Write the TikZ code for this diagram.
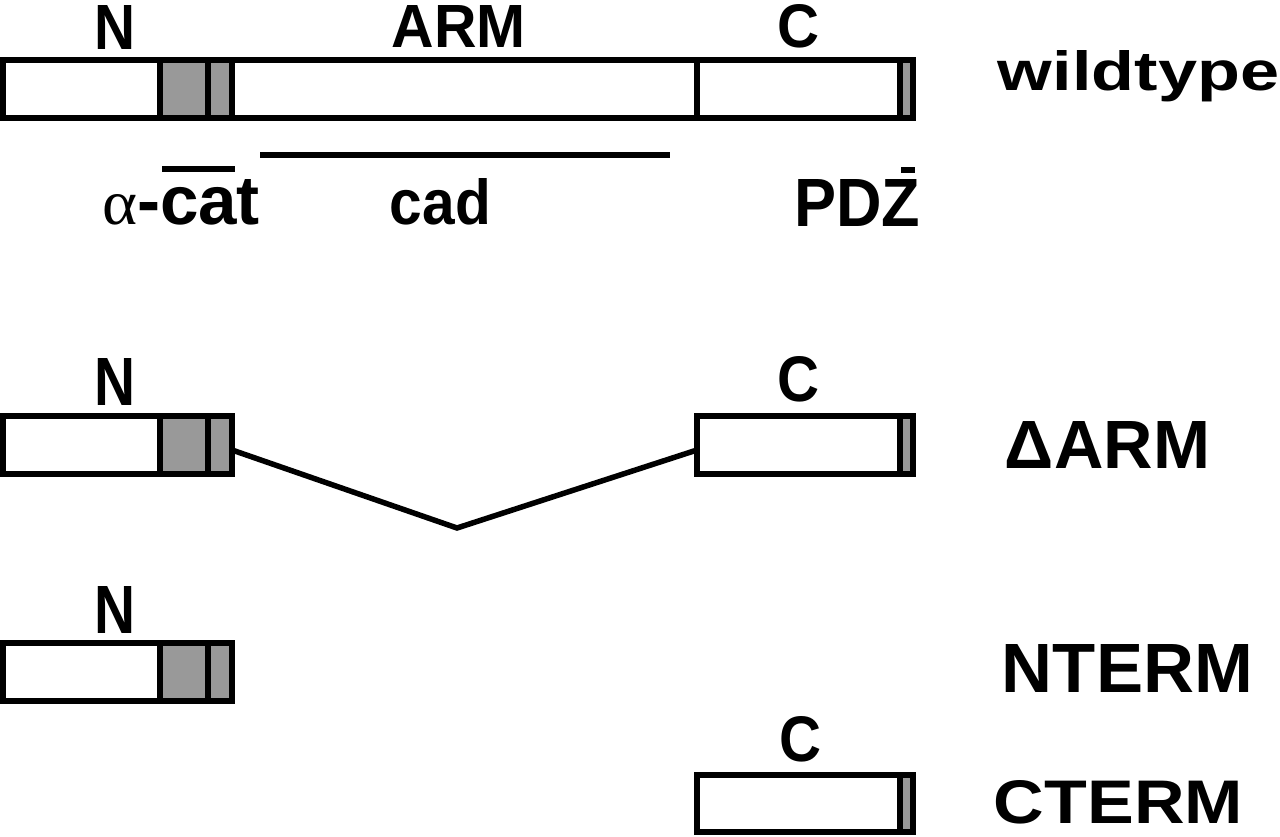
\documentclass[tikz,border=0pt]{standalone}
\usepackage{fontspec}
\usepackage{graphicx}
\newfontfamily\hvfont{Liberation Sans}
\newfontfamily\alphafont{Liberation Serif}
\newcommand\rzlab[3]{\resizebox{#1pt}{#2pt}{\hvfont\bfseries #3}}
\definecolor{domgray}{RGB}{153,153,153}
\tikzset{
  protbox/.style={draw=black, fill=white, line width=6pt, inner sep=0pt, outer sep=0pt,
                  anchor=north west, minimum height=58pt},
  divline/.style={line width=6pt, line cap=butt},
  regbar/.style={line width=6pt, line cap=butt},
  conn/.style={line width=5.5pt},
  lab/.style={inner sep=0pt, outer sep=0pt, anchor=base},
}
\begin{document}
\begin{tikzpicture}[x=1pt, y=-1pt]
\useasboundingbox (0,0) rectangle (1280,837);
\fill[white] (0,0) rectangle (1280,837);

% ---------- wildtype ----------
\node[protbox, minimum width=910pt] (wt) at (3,60) {};
\fill[domgray] (163,63) rectangle (205,115);
\fill[domgray] (211,63) rectangle (229,115);
\fill[domgray] (903,63) rectangle (910,115);
\draw[divline] (160,60) -- (160,118);
\draw[divline] (208,60) -- (208,118);
\draw[divline] (232,60) -- (232,118);
\draw[divline] (697,60) -- (697,118);
\draw[divline] (900,60) -- (900,118);

\node[lab] (wtN) at (115.5,50) {\rzlab{41}{44}{N}};
\node[lab] (wtARM) at (459,48) {\rzlab{134}{42}{ARM}};
\node[lab] (wtC) at (798.5,48) {\rzlab{42}{43}{C}};
\node[lab] (wtname) at (1138.5,91) {\rzlab{281}{40}{wildtype}};

% binding regions
\coordinate (acatL) at (162,169.5);
\coordinate (acatR) at (235,169.5);
\draw[regbar] (acatL) -- (acatR);
\coordinate (cadL) at (260,155);
\coordinate (cadR) at (670,155);
\draw[regbar] (cadL) -- (cadR);
\coordinate (pdzL) at (901,170);
\coordinate (pdzR) at (915,170);
\draw[regbar] (pdzL) -- (pdzR);

\node[lab, anchor=base west] (acat) at (102,225)
  {\resizebox{35pt}{30pt}{\alphafont α}\rzlab{123}{45}{-cat}};
\node[lab] (cad) at (440.5,225) {\rzlab{101}{46}{cad}};
\node[lab] (pdz) at (857,227) {\rzlab{126}{47}{PDZ}};

% ---------- Delta ARM ----------
\node[protbox, minimum width=229pt] (dN) at (3,416) {};
\fill[domgray] (163,419) rectangle (205,471);
\fill[domgray] (211,419) rectangle (229,471);
\draw[divline] (160,416) -- (160,474);
\draw[divline] (208,416) -- (208,474);

\node[protbox, minimum width=216pt] (dC) at (697,416) {};
\fill[domgray] (903,419) rectangle (910,471);
\draw[divline] (900,416) -- (900,474);

\coordinate (dip) at (457,528);
\draw[conn] ([yshift=-5pt]dN.east) -- (dip) -- ([yshift=-5pt]dC.west);

\node[lab] (dNlab) at (115.5,405) {\rzlab{41}{47}{N}};
\node[lab] (dClab) at (798.5,401) {\rzlab{42}{45}{C}};
\node[lab] (dname) at (1107.5,468) {\rzlab{205}{47}{ΔARM}};

% ---------- NTERM ----------
\node[protbox, minimum width=229pt] (nt) at (3,643) {};
\fill[domgray] (163,646) rectangle (205,698);
\fill[domgray] (211,646) rectangle (229,698);
\draw[divline] (160,643) -- (160,701);
\draw[divline] (208,643) -- (208,701);

\node[lab] (ntN) at (115.5,633) {\rzlab{41}{47}{N}};
\node[lab] (ntname) at (1127.5,692) {\rzlab{251}{48}{NTERM}};

% ---------- CTERM ----------
\node[protbox, minimum width=216pt, minimum height=57pt] (ct) at (697,775) {};
\fill[domgray] (903,778) rectangle (910,829);
\draw[divline] (900,775) -- (900,832);

\node[lab] (ctC) at (801,761) {\rzlab{42}{45}{C}};
\node[lab] (ctname) at (1118.5,823) {\rzlab{249}{43}{CTERM}};
\end{tikzpicture}
\end{document}
